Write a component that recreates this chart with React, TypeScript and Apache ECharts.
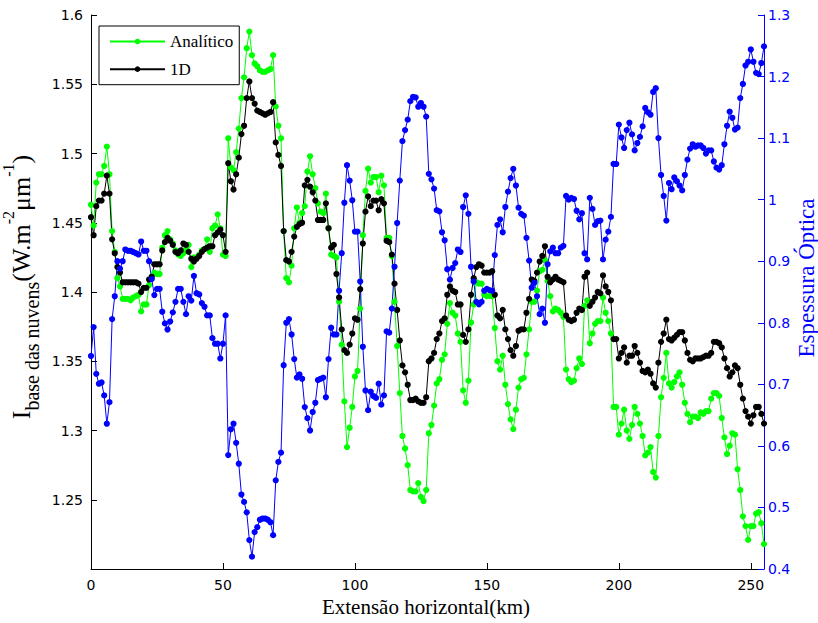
import React, { useEffect, useRef } from 'react';
import * as echarts from 'echarts';

// Extensão horizontal (km): index 0..255
const analitico: number[] = [
  1.463,1.448,1.479,1.485,1.485,1.491,1.505,1.485,1.444,1.429,
  1.41,1.404,1.395,1.395,1.395,1.394,1.396,1.397,1.398,1.386,
  1.391,1.391,1.405,1.41,1.414,1.413,1.413,1.432,1.441,1.444,
  1.438,1.435,1.43,1.427,1.426,1.428,1.431,1.434,1.418,1.425,
  1.425,1.427,1.43,1.431,1.438,1.429,1.446,1.448,1.456,1.446,
  1.427,1.426,1.511,1.49,1.488,1.501,1.518,1.54,1.555,1.576,
  1.588,1.571,1.565,1.563,1.56,1.559,1.559,1.56,1.561,1.571,
  1.534,1.52,1.511,1.444,1.41,1.407,1.419,1.446,1.461,1.45,
  1.457,1.462,1.487,1.498,1.485,1.475,1.464,1.458,1.457,1.471,
  1.446,1.427,1.426,1.425,1.393,1.362,1.321,1.288,1.302,1.317,
  1.339,1.343,1.388,1.441,1.473,1.489,1.479,1.483,1.483,1.472,
  1.484,1.477,1.439,1.439,1.426,1.393,1.361,1.327,1.296,1.287,
  1.275,1.257,1.256,1.256,1.262,1.252,1.249,1.257,1.298,1.304,
  1.318,1.334,1.337,1.351,1.355,1.377,1.392,1.385,1.383,1.37,
  1.364,1.329,1.32,1.336,1.378,1.391,1.407,1.406,1.406,1.398,
  1.397,1.397,1.397,1.374,1.35,1.344,1.354,1.333,1.319,1.308,
  1.301,1.315,1.331,1.337,1.338,1.355,1.373,1.393,1.393,1.401,
  1.415,1.416,1.423,1.408,1.397,1.386,1.388,1.387,1.385,1.382,
  1.344,1.337,1.335,1.336,1.345,1.352,1.348,1.39,1.394,1.363,
  1.37,1.377,1.379,1.379,1.396,1.385,1.379,1.37,1.317,1.317,
  1.297,1.305,1.315,1.3,1.294,1.304,1.317,1.312,1.305,1.296,
  1.282,1.284,1.288,1.27,1.266,1.296,1.324,1.338,1.356,1.334,
  1.331,1.335,1.339,1.342,1.333,1.32,1.312,1.306,1.31,1.31,
  1.309,1.313,1.312,1.314,1.314,1.323,1.327,1.327,1.325,1.309,
  1.295,1.283,1.289,1.298,1.297,1.272,1.257,1.238,1.231,1.221,
  1.231,1.231,1.24,1.241,1.233,1.218
];

const umD: number[] = [
  1.454,1.441,1.462,1.466,1.466,1.471,1.484,1.471,1.438,1.428,
  1.418,1.414,1.407,1.407,1.407,1.407,1.407,1.407,1.406,1.4,
  1.403,1.403,1.409,1.411,1.42,1.42,1.42,1.43,1.436,1.439,
  1.437,1.434,1.429,1.428,1.43,1.435,1.434,1.429,1.424,1.422,
  1.424,1.426,1.429,1.431,1.432,1.433,1.433,1.441,1.443,1.445,
  1.441,1.429,1.493,1.48,1.474,1.485,1.497,1.514,1.52,1.54,
  1.552,1.54,1.536,1.531,1.53,1.529,1.528,1.529,1.53,1.537,
  1.508,1.499,1.491,1.444,1.423,1.422,1.429,1.44,1.447,1.449,
  1.45,1.477,1.481,1.476,1.472,1.466,1.452,1.452,1.452,1.464,
  1.446,1.432,1.434,1.413,1.396,1.373,1.358,1.356,1.362,1.37,
  1.381,1.38,1.402,1.435,1.458,1.469,1.462,1.466,1.466,1.459,
  1.467,1.464,1.437,1.436,1.427,1.406,1.387,1.365,1.347,1.342,
  1.333,1.322,1.322,1.323,1.321,1.32,1.32,1.324,1.35,1.352,
  1.356,1.366,1.37,1.379,1.381,1.398,1.404,1.401,1.4,1.391,
  1.391,1.369,1.364,1.373,1.398,1.41,1.418,1.42,1.419,1.414,
  1.414,1.414,1.415,1.398,1.383,1.381,1.387,1.373,1.366,1.358,
  1.354,1.361,1.372,1.373,1.373,1.385,1.395,1.409,1.408,1.414,
  1.422,1.426,1.433,1.411,1.407,1.409,1.411,1.409,1.408,1.407,
  1.383,1.38,1.379,1.38,1.385,1.388,1.387,1.411,1.414,1.39,
  1.393,1.396,1.4,1.399,1.412,1.404,1.4,1.394,1.366,1.366,
  1.352,1.356,1.36,1.349,1.354,1.354,1.361,1.356,1.349,1.343,
  1.342,1.344,1.341,1.334,1.331,1.349,1.364,1.37,1.38,1.366,
  1.365,1.367,1.369,1.371,1.371,1.365,1.356,1.351,1.35,1.352,
  1.352,1.352,1.353,1.354,1.354,1.356,1.364,1.364,1.363,1.36,
  1.352,1.345,1.339,1.342,1.347,1.345,1.333,1.323,1.314,1.31,
  1.305,1.311,1.317,1.317,1.312,1.305
];

const espessura: number[] = [
  0.746,0.793,0.717,0.701,0.703,0.682,0.636,0.671,0.806,0.843,
  0.9,0.888,0.9,0.919,0.917,0.917,0.915,0.913,0.911,0.932,
  0.917,0.917,0.9,0.871,0.845,0.855,0.855,0.818,0.799,0.789,
  0.802,0.817,0.834,0.855,0.855,0.834,0.814,0.843,0.836,0.876,
  0.848,0.846,0.832,0.826,0.812,0.812,0.775,0.766,0.766,0.742,
  0.766,0.812,0.585,0.627,0.636,0.605,0.571,0.521,0.509,0.492,
  0.447,0.42,0.46,0.468,0.48,0.482,0.482,0.48,0.476,0.455,
  0.544,0.574,0.589,0.731,0.8,0.806,0.781,0.741,0.711,0.716,
  0.709,0.663,0.645,0.625,0.655,0.67,0.707,0.709,0.711,0.679,
  0.741,0.792,0.781,0.781,0.852,0.913,0.995,1.056,1.031,0.999,
  0.948,0.948,0.867,0.761,0.69,0.658,0.688,0.681,0.678,0.701,
  0.667,0.682,0.786,0.784,0.823,0.891,0.962,1.031,1.095,1.113,
  1.13,1.16,1.167,1.166,1.151,1.157,1.151,1.135,1.042,1.033,
  1.018,0.983,0.981,0.947,0.934,0.887,0.87,0.889,0.897,0.919,
  0.915,0.988,1.007,0.977,0.891,0.867,0.834,0.83,0.834,0.852,
  0.855,0.853,0.852,0.91,0.959,0.968,0.947,0.988,1.013,1.035,
  1.05,1.023,0.987,0.977,0.974,0.938,0.901,0.857,0.865,0.843,
  0.814,0.823,0.8,0.895,0.916,0.922,0.913,0.913,0.922,0.925,
  1.006,1.0,1.003,1.001,0.982,0.968,0.978,0.913,0.903,1.003,
  0.985,0.959,0.965,0.966,0.903,0.935,0.948,0.972,1.058,1.058,
  1.122,1.101,1.084,1.113,1.125,1.106,1.08,1.092,1.102,1.119,
  1.149,1.142,1.138,1.175,1.181,1.1,1.04,1.006,0.966,1.027,
  1.017,1.036,1.03,1.023,1.015,1.04,1.065,1.083,1.09,1.086,
  1.088,1.088,1.084,1.075,1.08,1.08,1.062,1.052,1.049,1.056,
  1.09,1.12,1.143,1.133,1.114,1.117,1.165,1.188,1.218,1.224,
  1.244,1.224,1.206,1.204,1.222,1.249
];

const xTickValues: number[] = [0, 50, 100, 150, 200, 250];
const leftTickValues: number[] = [1.2, 1.25, 1.3, 1.35, 1.4, 1.45, 1.5, 1.55, 1.6];
const rightTickValues: number[] = [0.4, 0.5, 0.6, 0.7, 0.8, 0.9, 1.0, 1.1, 1.2, 1.3];

const GREEN = '#00ff00';
const BLACK = '#000000';
const BLUE = '#0000ff';
const SERIF = 'Liberation Serif';
const SANS = 'DejaVu Sans';

export default function App() {
  const ref = useRef<HTMLDivElement>(null);

  useEffect(() => {
    if (!ref.current) return;
    const chart = echarts.init(ref.current, null, { renderer: 'svg' });
    const pairs = (arr: number[]) => arr.map((v, i) => [i, v]);
    const fmt = (v: number) => String(Math.round(v * 100) / 100);

    chart.setOption({
      animation: false,
      backgroundColor: '#ffffff',
      grid: { left: 91, top: 15, right: 54, bottom: 54, containLabel: false },
      xAxis: {
        type: 'value',
        min: 0,
        max: 255,
        interval: 50,
        axisLine: { show: true, onZero: false, lineStyle: { color: BLACK, width: 1 } },
        axisTick: { show: true, inside: true, length: 6, lineStyle: { color: BLACK }, customValues: xTickValues },
        axisLabel: { show: true, margin: 9, color: BLACK, fontFamily: SANS, fontSize: 14, customValues: xTickValues },
        splitLine: { show: false },
      },
      yAxis: [
        {
          type: 'value',
          position: 'left',
          min: 1.2,
          max: 1.6,
          interval: 0.05,
          axisLine: { show: true, onZero: false, lineStyle: { color: BLACK, width: 1 } },
          axisTick: { show: true, inside: true, length: 6, lineStyle: { color: BLACK }, customValues: leftTickValues },
          axisLabel: {
            margin: 8, color: BLACK, fontFamily: SANS, fontSize: 14,
            customValues: leftTickValues,
            formatter: (v: number) => (v < 1.21 ? '' : fmt(v)),
          },
          splitLine: { show: false },
        },
        {
          type: 'value',
          position: 'right',
          min: 0.4,
          max: 1.3,
          interval: 0.1,
          axisLine: { show: true, onZero: false, lineStyle: { color: BLUE, width: 1 } },
          axisTick: { show: true, inside: true, length: 6, lineStyle: { color: BLUE }, customValues: rightTickValues },
          axisLabel: {
            margin: 4, color: BLUE, fontFamily: SANS, fontSize: 14,
            customValues: rightTickValues,
            formatter: (v: number) => fmt(v),
          },
          splitLine: { show: false },
        },
      ],
      legend: {
        data: ['Analítico', '1D'],
        orient: 'vertical',
        left: 99,
        top: 26,
        itemWidth: 55,
        itemHeight: 7,
        itemGap: 10.7,
        padding: [7, 6, 7, 10],
        backgroundColor: '#ffffff',
        borderColor: BLACK,
        borderWidth: 1,
        borderRadius: 0,
        textStyle: { fontFamily: SERIF, fontSize: 17, color: BLACK, lineHeight: 14 },
      },
      series: [
        {
          name: 'Analítico',
          type: 'line',
          xAxisIndex: 0,
          yAxisIndex: 0,
          data: pairs(analitico),
          symbol: 'circle',
          symbolSize: 6.2,
          showAllSymbol: true,
          lineStyle: { color: GREEN, width: 1 },
          itemStyle: { color: GREEN },
        },
        {
          name: '1D',
          type: 'line',
          xAxisIndex: 0,
          yAxisIndex: 0,
          data: pairs(umD),
          symbol: 'circle',
          symbolSize: 6.2,
          showAllSymbol: true,
          lineStyle: { color: BLACK, width: 1 },
          itemStyle: { color: BLACK },
        },
        {
          name: 'Espessura Óptica',
          type: 'line',
          xAxisIndex: 0,
          yAxisIndex: 1,
          data: pairs(espessura),
          symbol: 'circle',
          symbolSize: 6.2,
          showAllSymbol: true,
          lineStyle: { color: BLUE, width: 1 },
          itemStyle: { color: BLUE },
        },
      ],
      graphic: [
        {
          type: 'text',
          x: 426,
          y: 607,
          style: {
            text: 'Extensão horizontal(km)',
            fontFamily: SERIF,
            fontSize: 21,
            fill: BLACK,
            align: 'center',
            verticalAlign: 'middle',
            textAlign: 'center',
            textVerticalAlign: 'middle',
          },
        },
        {
          type: 'text',
          x: 21,
          y: 287,
          rotation: Math.PI / 2,
          style: {
            text: '{m|I}{s|base das nuvens}{m|(W.m}{p|-2}{m|μm}{p|-1}{m|)}',
            align: 'center',
            verticalAlign: 'middle',
            textAlign: 'center',
            textVerticalAlign: 'middle',
            rich: {
              m: { fontFamily: SERIF, fontSize: 26, fill: BLACK, lineHeight: 42, verticalAlign: 'middle' },
              s: { fontFamily: SERIF, fontSize: 20, fill: BLACK, lineHeight: 20, verticalAlign: 'bottom' },
              p: { fontFamily: SERIF, fontSize: 16, fill: BLACK, lineHeight: 30, verticalAlign: 'top' },
            },
          },
        },
        {
          type: 'text',
          x: 806,
          y: 278,
          rotation: Math.PI / 2,
          style: {
            text: 'Espessura Óptica',
            fontFamily: SERIF,
            fontSize: 23,
            fill: BLUE,
            align: 'center',
            verticalAlign: 'middle',
            textAlign: 'center',
            textVerticalAlign: 'middle',
          },
        },
      ],
    });

    return () => chart.dispose();
  }, []);

  return (
    <div
      ref={ref}
      style={{ position: 'absolute', left: 0, top: 0, width: 818, height: 623, background: '#ffffff' }}
    />
  );
}
